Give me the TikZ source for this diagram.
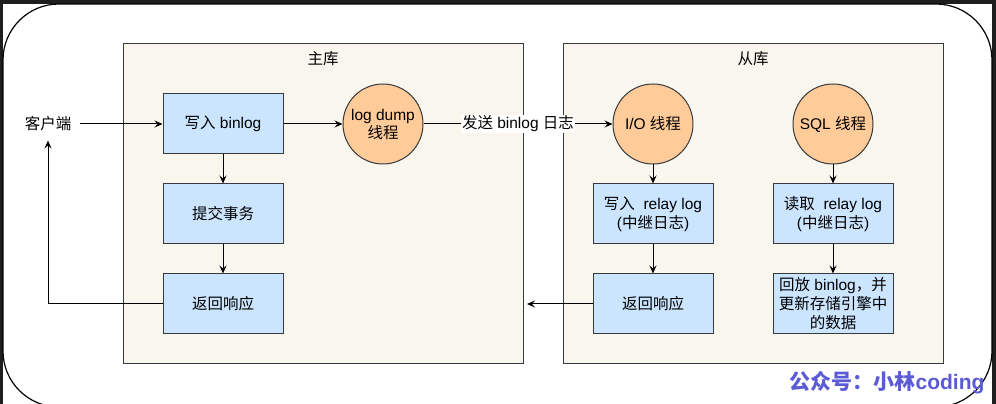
\documentclass[tikz,border=0pt]{standalone}
\usepackage{fontspec}
\setmainfont{Liberation Sans}
\newfontfamily\cjkfont{Noto Sans CJK SC}
\usetikzlibrary{arrows.meta}
\definecolor{boxblue}{HTML}{CCE5FF}
\definecolor{threadorange}{HTML}{FFCC99}
\definecolor{framebeige}{HTML}{F9F7ED}
\definecolor{edgegray}{HTML}{36393D}
\definecolor{screendark}{HTML}{1E1E1E}
\definecolor{markblue}{HTML}{5B5BD6}
\newcommand{\zh}[1]{{\cjkfont #1}}

\begin{document}
\begin{tikzpicture}[x=1pt,y=1pt,
  font=\fontsize{15.5}{19}\selectfont,
  logbox/.style={draw=edgegray,fill=boxblue,line width=1pt,minimum width=120pt,
    minimum height=60pt,inner sep=2pt,align=center},
  thread/.style={circle,draw=edgegray,fill=threadorange,line width=1pt,
    minimum size=80pt,inner sep=0pt,align=center},
  dbframe/.style={draw=edgegray,fill=framebeige,line width=1pt},
  flow/.style={-{Stealth[length=8pt,width=7pt,inset=3pt]},line width=1pt}]
\useasboundingbox (0,0) rectangle (996,404);
% screen
\fill[screendark] (0,0) rectangle (996,404);
\fill[white] (3,-10) rectangle (992,400);
\draw[line width=1.2pt,rounded corners=56pt] (3,-3) rectangle (992,400);
% frames
\draw[dbframe] (123,40) rectangle (523,360);
\draw[dbframe] (563,40) rectangle (943,360);
\node (mtitle) at (323,345) {\zh{主库}};
\node (stitle) at (753,345) {\zh{从库}};
% master
\node[inner sep=9pt] (client) at (48,280) {\zh{客户端}};
\node[logbox] (mwrite)  at (223,280) {\zh{写入} binlog};
\node[logbox] (commit)  at (223,190) {\zh{提交事务}};
\node[logbox] (mret)    at (223,100) {\zh{返回响应}};
\node[thread] (dump)    at (383,280) {log dump\\[-1pt]\zh{线程}};
% slave
\node[thread] (io)      at (653,280) {I/O \zh{线程}};
\node[thread] (sql)     at (833,280) {SQL \zh{线程}};
\node[logbox] (swrite)  at (653,190) {\zh{写入}\ \ relay log\\(\zh{中继日志})};
\node[logbox] (sret)    at (653,100) {\zh{返回响应}};
\node[logbox] (sread)   at (833,190) {\zh{读取}\ \ relay log\\(\zh{中继日志})};
\node[logbox] (replay)  at (833,100) {\zh{回放} binlog\zh{，并}\\\zh{更新存储引擎中}\\\zh{的数据}};
\coordinate (medge) at (527,100);
% connectors
\draw[flow] (client.east) -- (mwrite.west);
\draw[flow] (mwrite) -- (dump);
\draw[flow] (mwrite) -- (commit);
\draw[flow] (commit) -- (mret);
\draw[flow] (mret.west) -| (client.south);
\draw[flow] (dump) -- (io) node[midway,fill=white,inner sep=1pt]{\zh{发送} binlog \zh{日志}};
\draw[flow] (io) -- (swrite);
\draw[flow] (swrite) -- (sret);
\draw[flow] (sret.west) -- (medge);
\draw[flow] (sql) -- (sread);
\draw[flow] (sread) -- (replay);
% watermark
\node[text=markblue,font=\fontsize{21}{24}\selectfont\bfseries] (mark) at (887,21) {\zh{公众号：小林}coding};
\end{tikzpicture}
\end{document}
